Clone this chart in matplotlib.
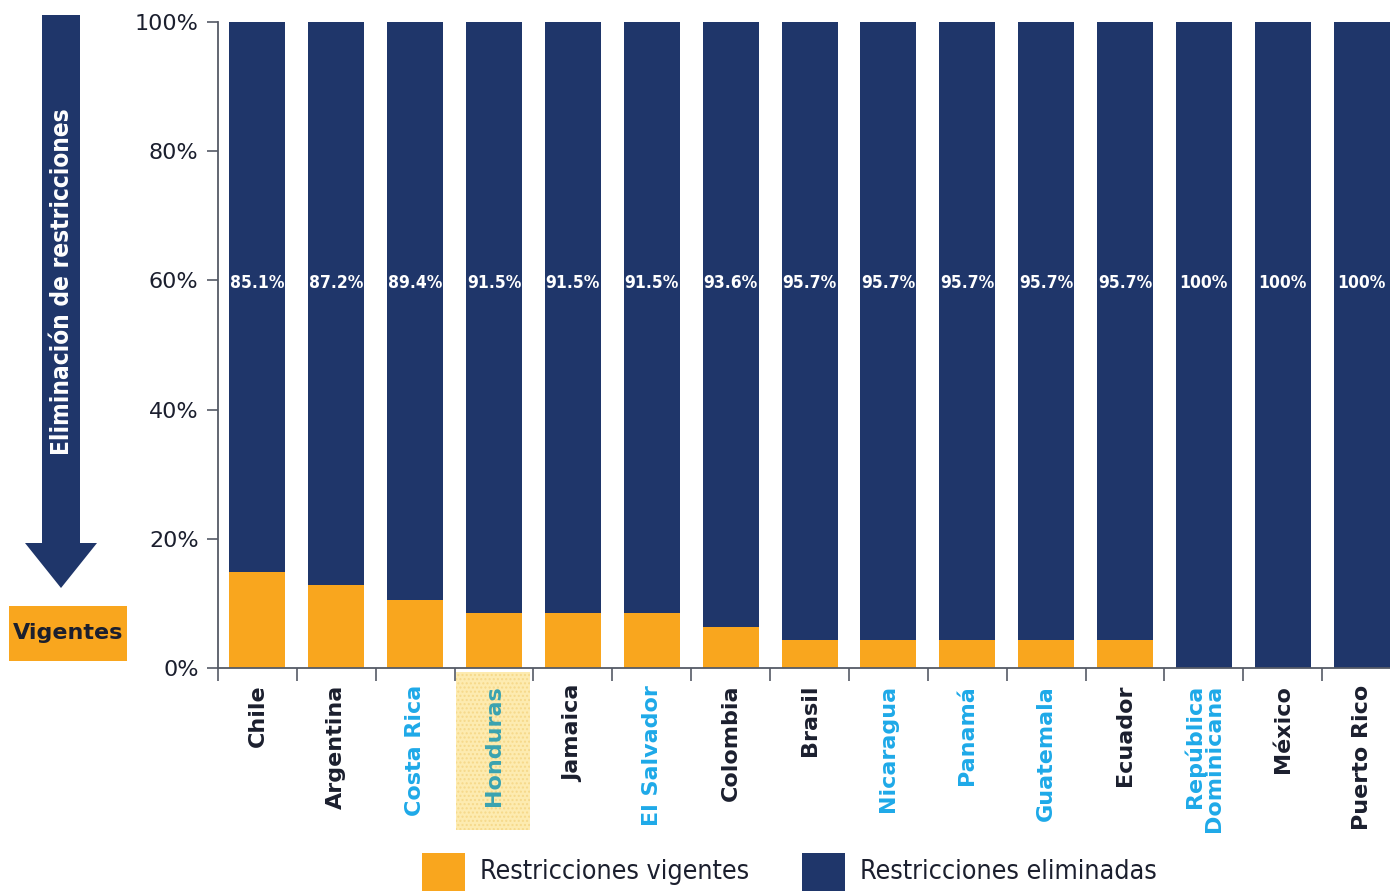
import matplotlib
matplotlib.use("Agg")
import matplotlib.pyplot as plt
from matplotlib.patches import Polygon, Rectangle
import numpy as np

countries = ["Chile", "Argentina", "Costa Rica", "Honduras", "Jamaica", "El Salvador",
             "Colombia", "Brasil", "Nicaragua", "Panamá", "Guatemala", "Ecuador",
             "República\nDominicana", "México", "Puerto Rico"]
eliminadas = [85.1, 87.2, 89.4, 91.5, 91.5, 91.5, 93.6, 95.7, 95.7, 95.7, 95.7, 95.7, 100, 100, 100]
vigentes = [round(100 - v, 1) for v in eliminadas]
bar_labels = ["85.1%", "87.2%", "89.4%", "91.5%", "91.5%", "91.5%", "93.6%", "95.7%",
              "95.7%", "95.7%", "95.7%", "95.7%", "100%", "100%", "100%"]
label_group = ["k", "k", "b", "h", "k", "b", "k", "k", "b", "b", "b", "k", "b", "k", "k"]

ORANGE = "#F9A61E"
NAVY = "#1F366A"
DARK = "#1b1f2e"
BLUE = "#1EA9E8"
TEAL = "#3AA3B0"
colmap = {"k": DARK, "b": BLUE, "h": TEAL}

W, H = 1390, 891
fig = plt.figure(figsize=(W / 100, H / 100), dpi=100)

def fx(x):
    return x / W

def fy(y):
    return 1 - y / H

cond = dict(family="DejaVu Sans", fontstretch="condensed")

ax = fig.add_axes([fx(218), fy(668), fx(1390) - fx(218), fy(22) - fy(668)])
x = np.arange(len(countries))
bw = 0.71
ax.bar(x, vigentes, width=bw, color=ORANGE, label="Restricciones vigentes")
ax.bar(x, eliminadas, width=bw, bottom=vigentes, color=NAVY, label="Restricciones eliminadas")

for i, lab in enumerate(bar_labels):
    ax.text(x[i], 59.6, lab, color="white", ha="center", va="center",
            fontsize=12.5, fontweight="bold", **cond)

ax.set_xlim(-0.5, 14.36)
ax.set_ylim(0, 100)
ax.set_yticks([0, 20, 40, 60, 80, 100])
ax.set_yticklabels(["0%", "20%", "40%", "60%", "80%", "100%"], fontsize=16, color=DARK)
ax.tick_params(axis="y", length=8, width=1.2, color="#555a66", pad=6)

ax.set_xticks(np.arange(-0.5, 14.5, 1.0))
ax.set_xticklabels([])
ax.tick_params(axis="x", length=9, width=1.2, color="#555a66")
for s in ["top", "right"]:
    ax.spines[s].set_visible(False)
for s in ["left", "bottom"]:
    ax.spines[s].set_color("#555a66")
    ax.spines[s].set_linewidth(1.3)

# Honduras highlight
fig.add_artist(Rectangle((fx(456), fy(830)), fx(530) - fx(456), fy(672) - fy(830),
                         transform=fig.transFigure, facecolor="#FDEBB0",
                         edgecolor="#F6D98A", hatch="....", linewidth=0, zorder=0))

for i, name in enumerate(countries):
    ax.text(x[i], -2.6, name, rotation=90, ha="center", va="top", fontsize=16,
            fontweight="bold", color=colmap[label_group[i]], linespacing=0.9,
            multialignment="right")

# Left arrow
shaft_l, shaft_r, top, head_y, tip_y, head_l, head_r = 42, 80, 15, 543, 588, 25, 97
pts = [(shaft_l, top), (shaft_r, top), (shaft_r, head_y), (head_r, head_y),
       ((head_l + head_r) / 2, tip_y), (head_l, head_y), (shaft_l, head_y)]
fig.add_artist(Polygon([(fx(a), fy(b)) for a, b in pts], closed=True,
                       transform=fig.transFigure, facecolor=NAVY, edgecolor="none"))
fig.text(fx(62), fy(282), "Eliminación de restricciones", rotation=90, color="white",
         ha="center", va="center", fontsize=17.5, fontweight="bold", **cond)

fig.add_artist(Rectangle((fx(9), fy(661)), fx(127) - fx(9), fy(606) - fy(661),
                         transform=fig.transFigure, facecolor=ORANGE, edgecolor="none"))
fig.text(fx(68), fy(633), "Vigentes", color=DARK, ha="center", va="center",
         fontsize=16, fontweight="bold")

# Legend
fig.add_artist(Rectangle((fx(422), fy(891)), fx(465) - fx(422), fy(853) - fy(891),
                         transform=fig.transFigure, facecolor=ORANGE, edgecolor="none"))
fig.text(fx(480), fy(872), "Restricciones vigentes", color=DARK, ha="left", va="center",
         fontsize=19.3, **cond)
fig.add_artist(Rectangle((fx(802), fy(891)), fx(845) - fx(802), fy(853) - fy(891),
                         transform=fig.transFigure, facecolor=NAVY, edgecolor="none"))
fig.text(fx(860), fy(872), "Restricciones eliminadas", color=DARK, ha="left", va="center",
         fontsize=19.3, **cond)

fig.savefig("out.png", dpi=100)
